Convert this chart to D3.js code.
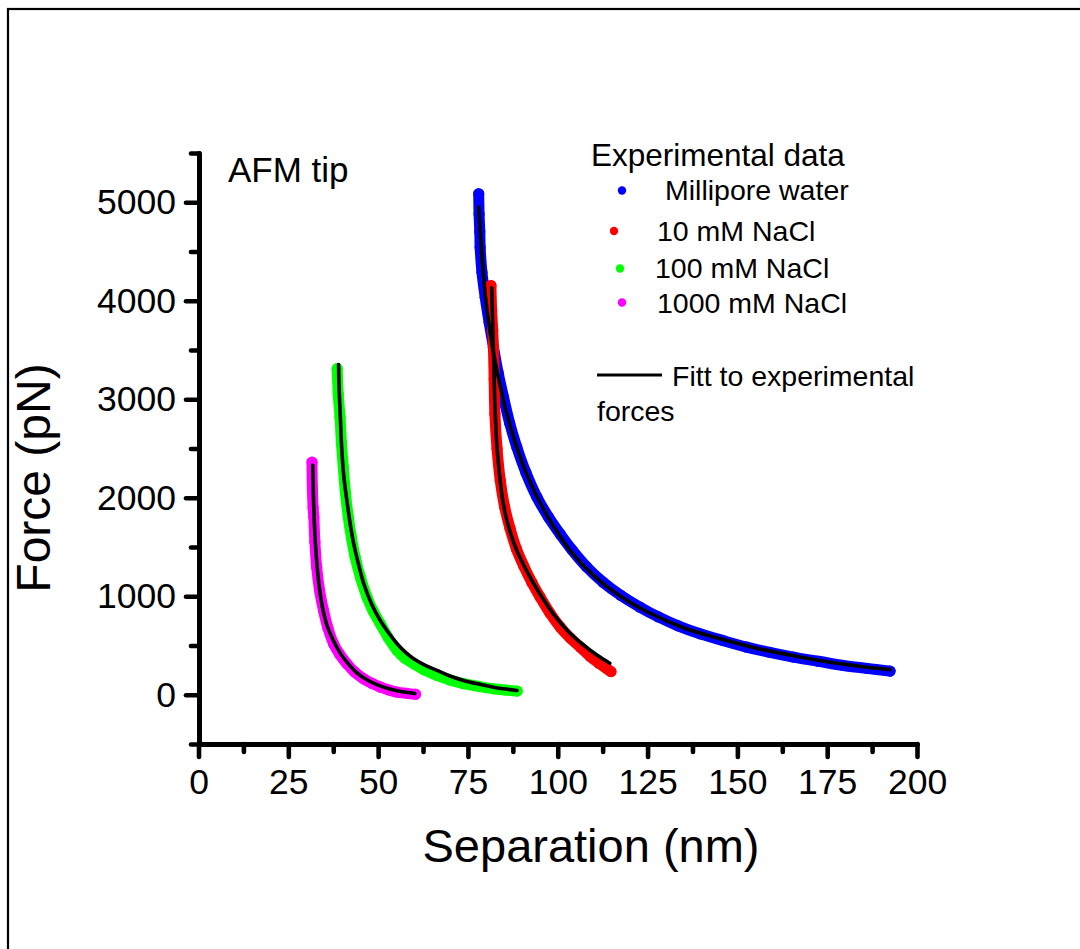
<!DOCTYPE html>
<html>
<head>
<meta charset="utf-8">
<script src="https://cdn.jsdelivr.net/npm/d3@7"></script>
<style>
  html, body { margin: 0; padding: 0; background: #fff; }
  svg { display: block; font-family: "Liberation Sans", Arial, sans-serif; }
</style>
</head>
<body>
<svg id="chart" width="1080" height="949"></svg>
<script>
// Separation (nm) / force (pN) readings for each medium
const waterSep = [78.0, 78.1, 78.3, 78.4, 78.9, 79.8, 80.9, 82.1, 83.4, 84.9, 86.6, 88.6, 91.2, 94.2, 97.5, 100.7, 104.0, 108.0, 112.7, 117.5, 122.9, 128.0, 133.5, 139.6, 146.0, 152.6, 159.0, 165.6, 172.5, 179.5, 186.0, 192.5];
const waterForce = [5086, 4880, 4700, 4544, 4290, 4036, 3780, 3529, 3270, 3021, 2760, 2514, 2250, 2006, 1800, 1630, 1470, 1300, 1140, 1010, 889, 790, 700, 619, 550, 483, 430, 382, 340, 297, 268, 240];

const nacl10Sep = [81.4, 81.6, 81.9, 82.1, 82.3, 82.5, 83.1, 84.0, 85.2, 86.7, 88.5, 90.5, 92.8, 95.1, 97.8, 100.7, 103.5, 106.3, 109.0, 111.5, 113.5, 114.8];
const nacl10Force = [4155, 3900, 3700, 3529, 3200, 2853, 2500, 2176, 1910, 1690, 1480, 1310, 1140, 991, 830, 686, 575, 483, 390, 320, 270, 235];

const nacl100Sep = [38.6, 38.9, 39.4, 39.8, 40.3, 40.9, 41.7, 42.6, 43.6, 45.1, 46.9, 48.6, 50.6, 52.8, 55.3, 57.5, 59.9, 63.0, 66.4, 70.0, 73.8, 78.0, 82.1, 85.5, 88.7];
const nacl100Force = [3310, 3050, 2818, 2550, 2311, 2050, 1803, 1590, 1397, 1190, 991, 850, 721, 580, 450, 370, 315, 250, 196, 150, 112, 85, 61, 48, 37];

const nacl1000Sep = [31.6, 31.7, 31.9, 32.1, 32.4, 32.9, 33.7, 34.8, 36.0, 37.6, 39.3, 41.3, 43.5, 46.0, 48.3, 50.7, 53.0, 55.3, 58.0, 60.4];
const nacl1000Force = [2361, 2100, 1900, 1803, 1550, 1295, 1060, 856, 680, 518, 410, 315, 230, 162, 115, 77, 48, 26, 14, 5];

// Fitted force curves
const waterFitSep = [78.0, 78.8, 80.0, 81.5, 83.3, 85.5, 88.0, 91.0, 94.5, 99, 104, 110, 117, 125, 135, 145, 155, 165, 175, 185, 192.5];
const waterFitForce = [4950, 4500, 4000, 3600, 3250, 2900, 2580, 2270, 1990, 1700, 1440, 1210, 1010, 840, 680, 570, 475, 400, 335, 285, 255];

const nacl10FitSep = [81.6, 81.9, 82.2, 82.5, 83.0, 83.8, 84.8, 86.2, 88.0, 90.2, 92.8, 95.8, 99.2, 103.0, 107.0, 111.0, 114.5];
const nacl10FitForce = [4132, 3750, 3350, 2950, 2560, 2230, 1950, 1720, 1520, 1340, 1160, 980, 800, 640, 510, 400, 320];

const nacl100FitSep = [39.0, 39.1, 39.5, 39.9, 40.5, 41.3, 42.2, 43.2, 44.5, 46.0, 48.2, 50.6, 53.0, 55.3, 57.5, 59.9, 63.0, 66.4, 70.0, 73.8, 78.0, 82.1, 85.5, 88.7];
const nacl100FitForce = [3353, 3157, 2800, 2480, 2200, 1973, 1740, 1533, 1330, 1127, 920, 754, 625, 518, 435, 365, 300, 247, 190, 145, 108, 77, 58, 44];

const nacl1000FitSep = [31.8, 32.0, 32.3, 32.8, 33.5, 34.5, 35.8, 37.6, 39.5, 41.3, 44.0, 47.0, 50.0, 53.0, 56.0, 60.2];
const nacl1000FitForce = [2330, 2000, 1700, 1400, 1130, 890, 700, 545, 420, 331, 225, 150, 98, 60, 35, 12];

const seriesNames = ["Millipore water", "10 mM NaCl", "100 mM NaCl", "1000 mM NaCl"];
const seriesColors = ["#0000ff", "#ff0000", "#00ff00", "#ff00ff"];

const xMajorTicks = [0, 25, 50, 75, 100, 125, 150, 175, 200];
const xMinorTicks = [12.5, 37.5, 62.5, 87.5, 112.5, 137.5, 162.5, 187.5];
const yMajorTicks = [0, 1000, 2000, 3000, 4000, 5000];
const yMinorTicks = [-500, 500, 1500, 2500, 3500, 4500, 5500];

const svg = d3.select("#chart");

// page frame
svg.append("rect")
  .attr("x", 8).attr("y", 9)
  .attr("width", 1200).attr("height", 1100)
  .attr("fill", "none").attr("stroke", "#000").attr("stroke-width", 2.2);

const x = d3.scaleLinear().domain([0, 200]).range([198.5, 917]);
const y = d3.scaleLinear().domain([-500, 5500]).range([744, 153]);

const zip = (a, b) => a.map((v, i) => [v, b[i]]);
const dataSets = [
  zip(waterSep, waterForce),
  zip(nacl10Sep, nacl10Force),
  zip(nacl100Sep, nacl100Force),
  zip(nacl1000Sep, nacl1000Force)
];
const fitSets = [
  zip(waterFitSep, waterFitForce),
  zip(nacl10FitSep, nacl10FitForce),
  zip(nacl100FitSep, nacl100FitForce),
  zip(nacl1000FitSep, nacl1000FitForce)
];

const line = d3.line()
  .x(d => x(d[0])).y(d => y(d[1]))
  .curve(d3.curveCatmullRom.alpha(0.5));

// experimental points: dense dots rendered as a thick band
const dataG = svg.append("g");
dataSets.forEach((pts, i) => {
  dataG.append("path")
    .attr("d", line(pts))
    .attr("fill", "none")
    .attr("stroke", seriesColors[i])
    .attr("stroke-width", 11)
    .attr("stroke-linecap", "round")
    .attr("stroke-linejoin", "round");
  dataG.selectAll(null).data(pts).enter().append("circle")
    .attr("cx", d => x(d[0])).attr("cy", d => y(d[1]))
    .attr("r", 5.6)
    .attr("fill", seriesColors[i]);
});

// fitted curves
const fitG = svg.append("g");
fitSets.forEach(pts => {
  fitG.append("path")
    .attr("d", line(pts))
    .attr("fill", "none")
    .attr("stroke", "#000")
    .attr("stroke-width", 3.6)
    .attr("stroke-linecap", "round")
    .attr("stroke-linejoin", "round");
});

// axes
const tickFont = 35.5;

const xAxis = svg.append("g").attr("transform", "translate(0,744)");
xAxis.call(d3.axisBottom(x).tickValues(xMajorTicks).tickSize(13).tickSizeOuter(0).tickPadding(12).tickFormat(d3.format("d")));
xAxis.append("g").call(d3.axisBottom(x).tickValues(xMinorTicks).tickSize(8).tickSizeOuter(0).tickFormat(""))
  .select(".domain").remove();

const yAxis = svg.append("g").attr("transform", "translate(199,0)");
yAxis.call(d3.axisLeft(y).tickValues(yMajorTicks).tickSize(13).tickSizeOuter(0).tickPadding(10).tickFormat(d3.format("d")));
yAxis.append("g").call(d3.axisLeft(y).tickValues(yMinorTicks).tickSize(8).tickSizeOuter(0).tickFormat(""))
  .select(".domain").remove();

[xAxis, yAxis].forEach(g => {
  g.selectAll(".domain").attr("stroke", "#000").attr("stroke-width", 5).attr("stroke-linecap", "round");
  g.selectAll(".tick line").attr("stroke", "#000").attr("stroke-width", 4.6).attr("stroke-linecap", "round");
  g.selectAll(".tick text")
    .attr("fill", "#000")
    .style("font-family", "'Liberation Sans', Arial, sans-serif")
    .style("font-size", tickFont + "px");
});

// axis titles
svg.append("text")
  .attr("x", 591).attr("y", 862)
  .attr("text-anchor", "middle")
  .style("font-size", "47px")
  .text("Separation (nm)");

svg.append("text")
  .attr("transform", "translate(50,478) rotate(-90)")
  .attr("text-anchor", "middle")
  .style("font-size", "48px")
  .text("Force (pN)");

// panel label
svg.append("text")
  .attr("x", 228).attr("y", 182)
  .style("font-size", "35px")
  .text("AFM tip");

// legend
svg.append("text")
  .attr("x", 591).attr("y", 166)
  .style("font-size", "31.5px")
  .text("Experimental data");

const legendDots = [[622, 190.5], [614, 231], [620, 268.5], [622, 302.5]];
const legendText = [[665, 200], [657, 241], [655, 278], [657, 313]];
seriesNames.forEach((name, i) => {
  svg.append("circle")
    .attr("cx", legendDots[i][0]).attr("cy", legendDots[i][1])
    .attr("r", 4.2).attr("fill", seriesColors[i]);
  svg.append("text")
    .attr("x", legendText[i][0]).attr("y", legendText[i][1])
    .style("font-size", "28.5px")
    .text(name);
});

svg.append("line")
  .attr("x1", 597).attr("x2", 662).attr("y1", 375).attr("y2", 375)
  .attr("stroke", "#000").attr("stroke-width", 2.8);
svg.append("text")
  .attr("x", 672).attr("y", 386)
  .style("font-size", "28.5px")
  .text("Fitt to experimental");
svg.append("text")
  .attr("x", 597).attr("y", 421)
  .style("font-size", "28.5px")
  .text("forces");
</script>
</body>
</html>
